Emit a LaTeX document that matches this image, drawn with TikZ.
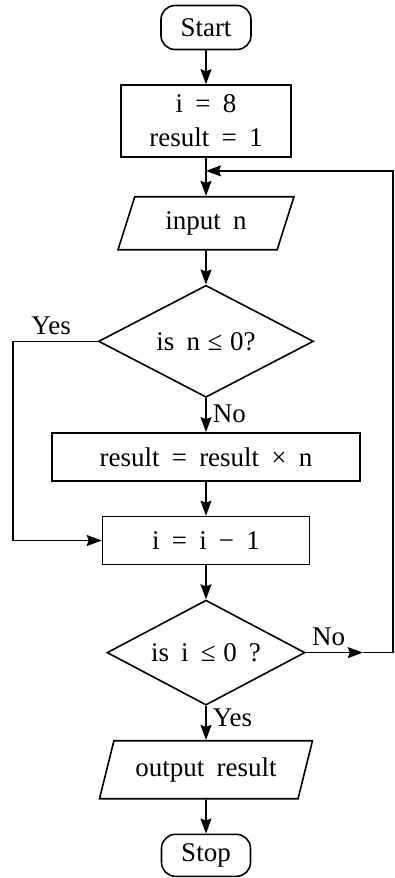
\documentclass[tikz,border=0pt]{standalone}
\usepackage{fontspec}
\setmainfont{Liberation Serif}
\usepackage{tikz}
\usetikzlibrary{positioning, shapes.geometric, arrows.meta}
\newcommand{\flowfont}{\fontsize{13.5}{17}\selectfont\spaceskip=0.45em plus 0.1em\relax}

\begin{document}
\begin{tikzpicture}[
    node distance=17pt,
    every node/.style={font=\flowfont},
    terminal/.style={rectangle, draw, rounded corners=7pt, line width=0.8pt, minimum width=45pt, minimum height=22pt, inner sep=2pt},
    process/.style={rectangle, draw, line width=0.8pt, minimum height=24pt, align=center, inner sep=2pt},
    io/.style={trapezium, trapezium left angle=62, trapezium right angle=118, trapezium stretches body, draw, line width=0.8pt, minimum height=26.5pt, inner sep=2pt},
    decision/.style={diamond, aspect=2, draw, line width=0.8pt, inner sep=0pt},
    flow/.style={-{Stealth[length=7.5pt, width=5.5pt, inset=1pt]}, line width=0.8pt},
    edge_label/.style={inner sep=3pt}
]
\useasboundingbox (-103pt,13.75pt) rectangle (94.5pt,-425.25pt);

% Nodes
\node[terminal] (start) {Start};
\node[process, below=of start, minimum width=85pt, minimum height=36pt] (init) {i = 8\\result = 1};
\node[io, below=19pt of init, minimum width=88pt] (input) {input n};
\node[decision, below=of input, minimum width=107.5pt, minimum height=56pt] (checkn) {is n\hspace{0.28em}≤\hspace{0.28em}0?};
\node[process, below=of checkn, minimum width=154pt] (mult) {result = result × n};
\node[process, below=of mult, minimum width=103.5pt] (dec) {i = i − 1};
\node[decision, below=of dec, minimum width=99pt, minimum height=52.5pt] (checki) {is i ≤\hspace{0.28em}0 ?};
\node[io, below=of checki, minimum width=106.5pt, minimum height=29pt, trapezium left angle=66, trapezium right angle=114] (output) {output result};
\node[terminal, below=of output, minimum width=44.5pt, minimum height=21pt] (stop) {Stop};

% Helper points for the side lines
\coordinate[below=6.5pt of init] (join);
\coordinate (leftx) at (-96.5pt,0);
\coordinate (rightx) at (93.5pt,0);
\coordinate[right=28.5pt of checki.east] (noarrow);

% Main flow
\draw[flow] (start) -- (init);
\draw[flow] (init) -- (input);
\draw[flow] (input) -- (checkn);
\draw[flow] (checkn) -- node[edge_label, right, pos=0.45] {No} (mult);
\draw[flow] (mult) -- (dec);
\draw[flow] (dec) -- (checki);
\draw[flow] (checki) -- node[edge_label, right, pos=0.35] {Yes} (output);
\draw[flow] (output) -- (stop);

% Branches
\draw[flow] (checkn.west) -- node[edge_label, above, pos=0.55] {Yes} (checkn.west -| leftx) |- (dec.west);
\draw[flow] (checki.east) -- node[edge_label, above, pos=0.4] {No} (noarrow);
\draw[flow] (noarrow) -- (noarrow -| rightx) |- (join);

\end{tikzpicture}
\end{document}
